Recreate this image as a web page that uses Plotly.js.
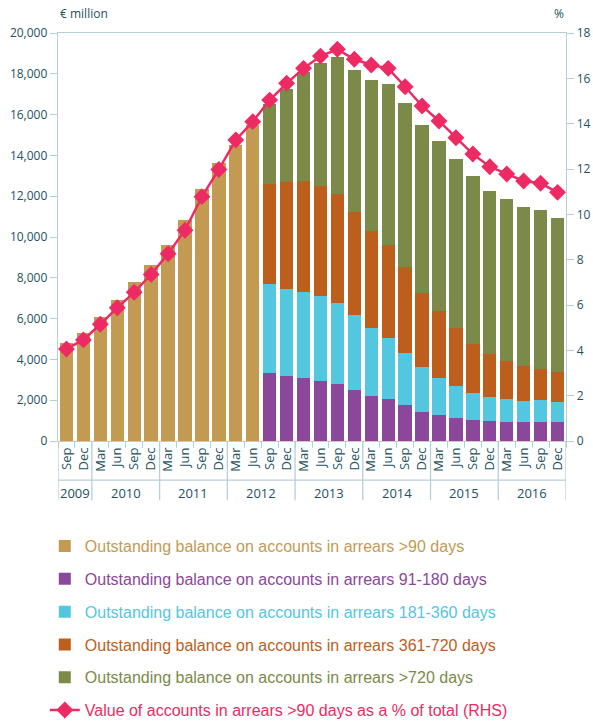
<!DOCTYPE html>
<html>
<head>
<meta charset="utf-8">
<script src="https://cdn.plot.ly/plotly-3.0.1.min.js"></script>
<style>
  html, body { margin: 0; padding: 0; background: #fff; }
  #chart { width: 593px; height: 722px; }
</style>
</head>
<body>
<div id="chart"></div>
<script>
// quarters, Sep 2009 .. Dec 2016
const months = ['Sep','Dec',
  'Mar','Jun','Sep','Dec', 'Mar','Jun','Sep','Dec', 'Mar','Jun','Sep','Dec',
  'Mar','Jun','Sep','Dec', 'Mar','Jun','Sep','Dec', 'Mar','Jun','Sep','Dec',
  'Mar','Jun','Sep','Dec'];
const periodYears = ['2009','2009',
  '2010','2010','2010','2010', '2011','2011','2011','2011', '2012','2012','2012','2012',
  '2013','2013','2013','2013', '2014','2014','2014','2014', '2015','2015','2015','2015',
  '2016','2016','2016','2016'];

// € million; only the total (>90 days) until Jun 2012, split by bucket afterwards
const over90 = [4800, 5300, 6100, 6900, 7800, 8650, 9600, 10850, 12350, 13650, 14500, 15500,
  null, null, null, null, null, null, null, null, null, null, null, null, null, null, null, null, null, null];
const d91_180 = [null, null, null, null, null, null, null, null, null, null, null, null,
  3340, 3200, 3100, 2940, 2800, 2500, 2220, 2060, 1770, 1440, 1290, 1130, 1030, 980, 930, 930, 930, 930];
const d181_360 = [null, null, null, null, null, null, null, null, null, null, null, null,
  4360, 4250, 4200, 4170, 3980, 3680, 3340, 3010, 2540, 2200, 1810, 1580, 1320, 1190, 1130, 1030, 1080, 980];
const d361_720 = [null, null, null, null, null, null, null, null, null, null, null, null,
  4910, 5260, 5450, 5410, 5340, 5060, 4730, 4540, 4220, 3630, 3270, 2850, 2420, 2110, 1860, 1730, 1520, 1490];
const over720 = [null, null, null, null, null, null, null, null, null, null, null, null,
  3890, 4540, 5350, 6030, 6680, 6960, 7410, 7890, 8020, 8230, 8330, 8240, 8230, 7970, 7930, 7760, 7770, 7550];

// % of total (RHS)
const pctArrears = [4.06, 4.46, 5.15, 5.88, 6.56, 7.35, 8.26, 9.3, 10.78, 11.98, 13.28, 14.09,
  15.04, 15.78, 16.44, 16.98, 17.28, 16.84, 16.59, 16.44, 15.63, 14.78, 14.12, 13.38, 12.66,
  12.1, 11.78, 11.47, 11.37, 10.97];

const cats = months.map((m, i) => m + ' ' + periodYears[i]);

const axisCol = '#b8cfd5';
const textCol = '#23515e';
const colors = {
  over90: '#c39a52', d91: '#8b4799', d181: '#53c6e0', d361: '#bd5e1c', d720: '#7b8a48', pct: '#ee2a64'
};

function label(txt, col){
  return '<span style="color:' + col + '">' + txt + '</span>';
}

function bar(y, name, col, grp){
  return {
    type: 'bar', x: cats, y: y, name: label(name, col),
    marker: {color: col}, legendgroup: grp, hoverinfo: 'y'
  };
}

const traces = [
  bar(over90, 'Outstanding balance on accounts in arrears &gt;90 days', colors.over90, 'g1'),
  bar(d91_180, 'Outstanding balance on accounts in arrears 91-180 days', colors.d91, 'g2'),
  bar(d181_360, 'Outstanding balance on accounts in arrears 181-360 days', colors.d181, 'g3'),
  bar(d361_720, 'Outstanding balance on accounts in arrears 361-720 days', colors.d361, 'g4'),
  bar(over720, 'Outstanding balance on accounts in arrears &gt;720 days', colors.d720, 'g5'),
  {
    type: 'scatter', mode: 'lines+markers', x: cats, y: pctArrears, yaxis: 'y2',
    name: label('Value of accounts in arrears &gt;90 days as a % of total (RHS)', colors.pct),
    line: {color: colors.pct, width: 2.5},
    marker: {symbol: 'diamond', size: 13, color: colors.pct},
    legendgroup: 'g6'
  }
];

// year groups under the month labels
let shapes = [];
let annotations = [];
let start = 0;
for (let i = 1; i <= cats.length; i++) {
  if (i == cats.length || periodYears[i] != periodYears[start]) {
    annotations.push({
      text: periodYears[start], xref: 'x', yref: 'paper',
      x: (start + i - 1) / 2, y: -0.128, yanchor: 'middle',
      showarrow: false, font: {size: 13, color: textCol}
    });
    shapes.push({
      type: 'line', xref: 'x', yref: 'paper', x0: i - 0.5, x1: i - 0.5, y0: 0, y1: -0.145,
      line: {color: axisCol, width: 1.3}
    });
    start = i;
  }
}
shapes.push({
  type: 'line', xref: 'x', yref: 'paper', x0: -0.5, x1: -0.5, y0: 0, y1: -0.145,
  line: {color: axisCol, width: 1.3}
});
shapes.push({
  type: 'line', xref: 'paper', yref: 'paper', x0: 0, x1: 1, y0: -0.096, y1: -0.096,
  line: {color: axisCol, width: 1.3}
});

annotations.push({
  text: '€ million', xref: 'paper', yref: 'paper', x: 0, y: 1.047,
  xanchor: 'left', yanchor: 'middle', showarrow: false, font: {size: 12, color: textCol}
});
annotations.push({
  text: '%', xref: 'paper', yref: 'paper', x: 1, y: 1.047,
  xanchor: 'right', yanchor: 'middle', showarrow: false, font: {size: 12, color: textCol}
});

const layout = {
  width: 593, height: 722,
  margin: {l: 58, r: 27, t: 33, b: 281, autoexpand: false},
  paper_bgcolor: '#fff', plot_bgcolor: '#fff',
  font: {family: 'Open Sans, sans-serif', size: 12, color: textCol},
  barmode: 'stack', bargap: 0.21,
  showlegend: true,
  xaxis: {
    type: 'category', categoryorder: 'array', categoryarray: cats,
    range: [-0.5, cats.length - 0.5],
    tickmode: 'array', tickvals: cats, ticktext: months, tickangle: -90,
    tickson: 'boundaries', ticks: 'outside', ticklen: 6, tickcolor: axisCol,
    showline: true, linecolor: axisCol, linewidth: 1.3, mirror: true,
    showgrid: false, zeroline: false, fixedrange: true, automargin: false,
    tickfont: {size: 13, color: textCol}
  },
  yaxis: {
    range: [0, 20000], dtick: 2000, tickformat: ',d',
    ticks: 'outside', ticklen: 7, tickcolor: axisCol,
    showline: true, linecolor: axisCol, linewidth: 1.3,
    showgrid: false, zeroline: false, automargin: false,
    tickfont: {size: 12, color: textCol}
  },
  yaxis2: {
    overlaying: 'y', side: 'right', range: [0, 18], dtick: 2,
    ticks: 'outside', ticklen: 7, tickcolor: axisCol,
    showline: true, linecolor: axisCol, linewidth: 1.3,
    showgrid: false, zeroline: false, automargin: false,
    tickfont: {size: 12, color: textCol}
  },
  legend: {
    orientation: 'v', x: -0.026, xanchor: 'left', y: -0.216, yanchor: 'top',
    traceorder: 'grouped', tracegroupgap: 9,
    font: {family: 'Liberation Sans, Arial, sans-serif', size: 16},
    bgcolor: 'rgba(0,0,0,0)'
  },
  shapes: shapes,
  annotations: annotations
};

Plotly.newPlot('chart', traces, layout, {displayModeBar: false, staticPlot: true});
</script>
</body>
</html>
